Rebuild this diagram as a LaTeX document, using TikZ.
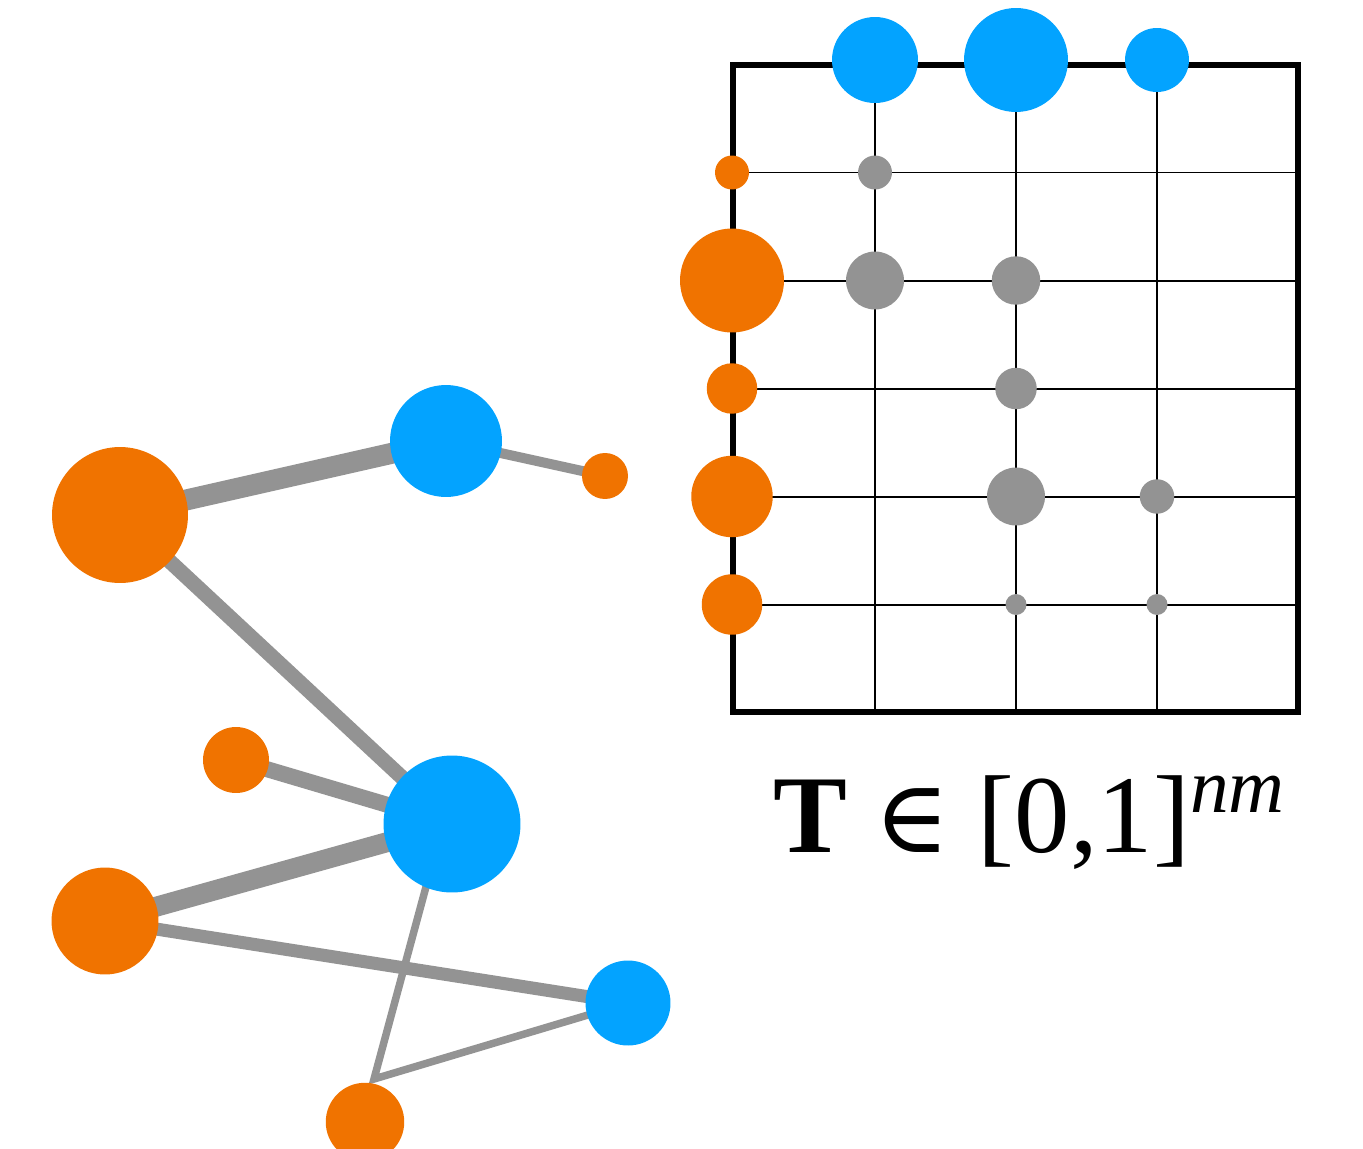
\documentclass[tikz,border=0pt]{standalone}
\usepackage{fontspec}
\setmainfont{Liberation Serif}
\newfontfamily\symfam{DejaVu Serif}
\usetikzlibrary{backgrounds}
\definecolor{cor}{RGB}{240,115,0}
\definecolor{cbl}{RGB}{3,163,255}
\definecolor{cgr}{RGB}{147,147,147}
\tikzset{
  dotnode/.style={circle,inner sep=0pt,outer sep=0pt,draw=none,minimum size=#1},
  onode/.style={dotnode=#1,fill=cor},
  bnode/.style={dotnode=#1,fill=cbl},
  gnode/.style={dotnode=#1,fill=cgr},
  edge/.style={draw=cgr,line width=#1},
  gridline/.style={black,line width=0.04cm},
  border/.style={black,line width=0.12cm},
}
\begin{document}
\begin{tikzpicture}[x=0.02cm,y=-0.02cm]
\useasboundingbox (0,0) rectangle (1363,1149);
% ---------- left graph ----------
\node[onode=2.72cm] (oA) at (120,515) {};
\node[bnode=2.24cm] (bA) at (446,441) {};
\node[onode=0.92cm] (oS) at (605,476) {};
\node[onode=1.32cm] (oC) at (236,760) {};
\node[bnode=2.74cm] (bB) at (452,824) {};
\node[onode=2.14cm] (oD) at (105,921) {};
\node[bnode=1.70cm] (bR) at (628,1003) {};
\node[onode=1.57cm] (oE) at (365,1122) {};
\coordinate (j) at (374,1079);
\begin{pgfonlayer}{background}
\draw[edge=0.42cm] (oA.center) -- (bA.center);
\draw[edge=0.2cm] (bA.center) -- (oS.center);
\draw[edge=0.3cm] (oA.center) -- (bB.center);
\draw[edge=0.32cm] (oC.center) -- (bB.center);
\draw[edge=0.4cm] (oD.center) -- (bB.center);
\draw[edge=0.26cm] (oD.center) -- (bR.center);
\draw[edge=0.15cm,line join=miter] ([xshift=-0.18cm]bB.center) -- (j) -- (bR.center);
\end{pgfonlayer}
% ---------- grid ----------
\coordinate (g00) at (733,65);
\coordinate (g11) at (1298,711.5);
\foreach \x in {875,1016,1157} \draw[gridline] (\x,65) -- (\x,711.5);
\foreach \y in {172.5,280.5,388.5,496.5,604.5} \draw[gridline] (733,\y) -- (1298,\y);
\draw[border] (g00) rectangle (g11);
% top (blue)
\node[bnode=1.72cm] (t1) at (875,60) {};
\node[bnode=2.08cm] (t2) at (1016,60) {};
\node[bnode=1.28cm] (t3) at (1157,60) {};
% left (orange)
\node[onode=0.68cm] (l1) at (732,172.5) {};
\node[onode=2.08cm] (l2) at (732,280.5) {};
\node[onode=1.01cm] (l3) at (732,388.5) {};
\node[onode=1.63cm] (l4) at (732,496.5) {};
\node[onode=1.21cm] (l5) at (732,604.5) {};
% entries (gray)
\node[gnode=0.68cm] (m11) at (875,172.5) {};
\node[gnode=1.16cm] (m21) at (875,280.5) {};
\node[gnode=0.97cm] (m22) at (1016,280.5) {};
\node[gnode=0.83cm] (m32) at (1016,388.5) {};
\node[gnode=1.16cm] (m42) at (1016,496.5) {};
\node[gnode=0.69cm] (m43) at (1157,496.5) {};
\node[gnode=0.42cm] (m52) at (1016,604.5) {};
\node[gnode=0.42cm] (m53) at (1157,604.5) {};
% label
\node[anchor=base west,inner sep=0pt] (lbl) at (773,852)
  {\fontsize{63}{70}\selectfont\textbf{T} {\symfam\fontsize{58}{70}\selectfont ∈} [0,1]\raisebox{22.5pt}{\fontsize{44}{50}\selectfont\itshape nm}};
\end{tikzpicture}
\end{document}
